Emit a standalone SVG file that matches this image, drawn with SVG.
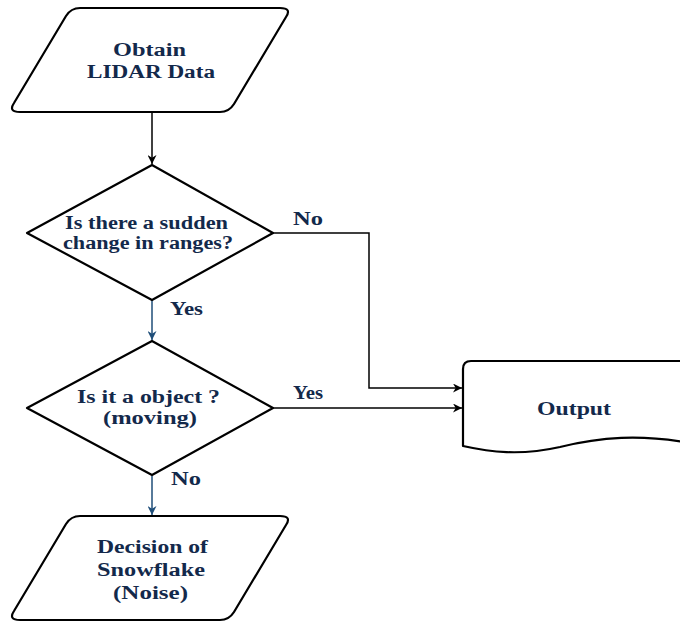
<svg xmlns="http://www.w3.org/2000/svg" width="680" height="623" viewBox="0 0 680 623">
<style>
.shape{fill:#fff;stroke:#000;stroke-width:2.2;stroke-linejoin:round}
text{font-family:'Liberation Serif','Times New Roman','DejaVu Serif',serif;font-weight:bold;font-size:18px;fill:#13294b}
.t{text-anchor:middle}
.k{fill:none;stroke:#000;stroke-width:1.5}
.b{fill:none;stroke:#1f4e79;stroke-width:1.5}
</style>
<defs>
<marker id="ak" viewBox="0 0 10 10" refX="10" refY="5" markerWidth="9" markerHeight="9" markerUnits="userSpaceOnUse" orient="auto"><path d="M0,0 L10,5 L0,10 L3,5 Z" fill="#000"/></marker>
<marker id="ab" viewBox="0 0 10 10" refX="10" refY="5" markerWidth="9" markerHeight="9" markerUnits="userSpaceOnUse" orient="auto"><path d="M0,0 L10,5 L0,10 L3,5 Z" fill="#1f4e79"/></marker>
</defs>
<g id="connectors">
<path class="k" d="M152,113 L152,164" marker-end="url(#ak)"/>
<path class="b" d="M152,300 L152,340" marker-end="url(#ab)"/>
<path class="k" d="M273,233 L369,233 L369,388 L462,388" marker-end="url(#ak)"/>
<path class="k" d="M273,408 L462,408" marker-end="url(#ak)"/>
<path class="b" d="M152,476 L152,515" marker-end="url(#ab)"/>
<text x="293" y="225" textLength="30" lengthAdjust="spacingAndGlyphs">No</text>
<text x="170" y="315" textLength="33" lengthAdjust="spacingAndGlyphs">Yes</text>
<text x="293" y="399" textLength="30" lengthAdjust="spacingAndGlyphs">Yes</text>
<text x="171" y="485" textLength="30" lengthAdjust="spacingAndGlyphs">No</text>
</g>
<g id="obtain">
<path class="shape" d="M80,8 L280,8 Q292,8 286,17 L234,104 Q229,112 220,112 L20,112 Q8,112 14,103 L66,16 Q71,8 80,8 Z"/>
<text class="t" x="149.5" y="56" textLength="73" lengthAdjust="spacingAndGlyphs">Obtain</text>
<text class="t" x="151" y="78" textLength="128" lengthAdjust="spacingAndGlyphs">LIDAR Data</text>
</g>
<g id="decision1">
<path class="shape" d="M152,165 L273,233 L152,300 L27,233 Z"/>
<text class="t" x="146.5" y="229" textLength="163" lengthAdjust="spacingAndGlyphs">Is there a sudden</text>
<text class="t" x="148" y="249" textLength="170" lengthAdjust="spacingAndGlyphs">change in ranges?</text>
</g>
<g id="decision2">
<path class="shape" d="M152,341 L273,408 L152,475 L27,408 Z"/>
<text class="t" x="148.5" y="403" textLength="143" lengthAdjust="spacingAndGlyphs">Is it a object ?</text>
<text class="t" x="150" y="424" textLength="94" lengthAdjust="spacingAndGlyphs">(moving)</text>
</g>
<g id="snowflake">
<path class="shape" d="M80,516 L280,516 Q292,516 286,525 L234,612 Q229,620 220,620 L20,620 Q8,620 14,611 L66,524 Q71,516 80,516 Z"/>
<text class="t" x="152.5" y="553" textLength="111" lengthAdjust="spacingAndGlyphs">Decision of</text>
<text class="t" x="151" y="576" textLength="108" lengthAdjust="spacingAndGlyphs">Snowflake</text>
<text class="t" x="150.5" y="599" textLength="75" lengthAdjust="spacingAndGlyphs">(Noise)</text>
</g>
<g id="output">
<path class="shape" d="M690,361 L471,361 Q463,361 463,369 L463,446 C490,452 520,456 560,447 C600,437 640,434 690,443"/>
<text class="t" x="574" y="415" textLength="74" lengthAdjust="spacingAndGlyphs">Output</text>
</g>
</svg>
